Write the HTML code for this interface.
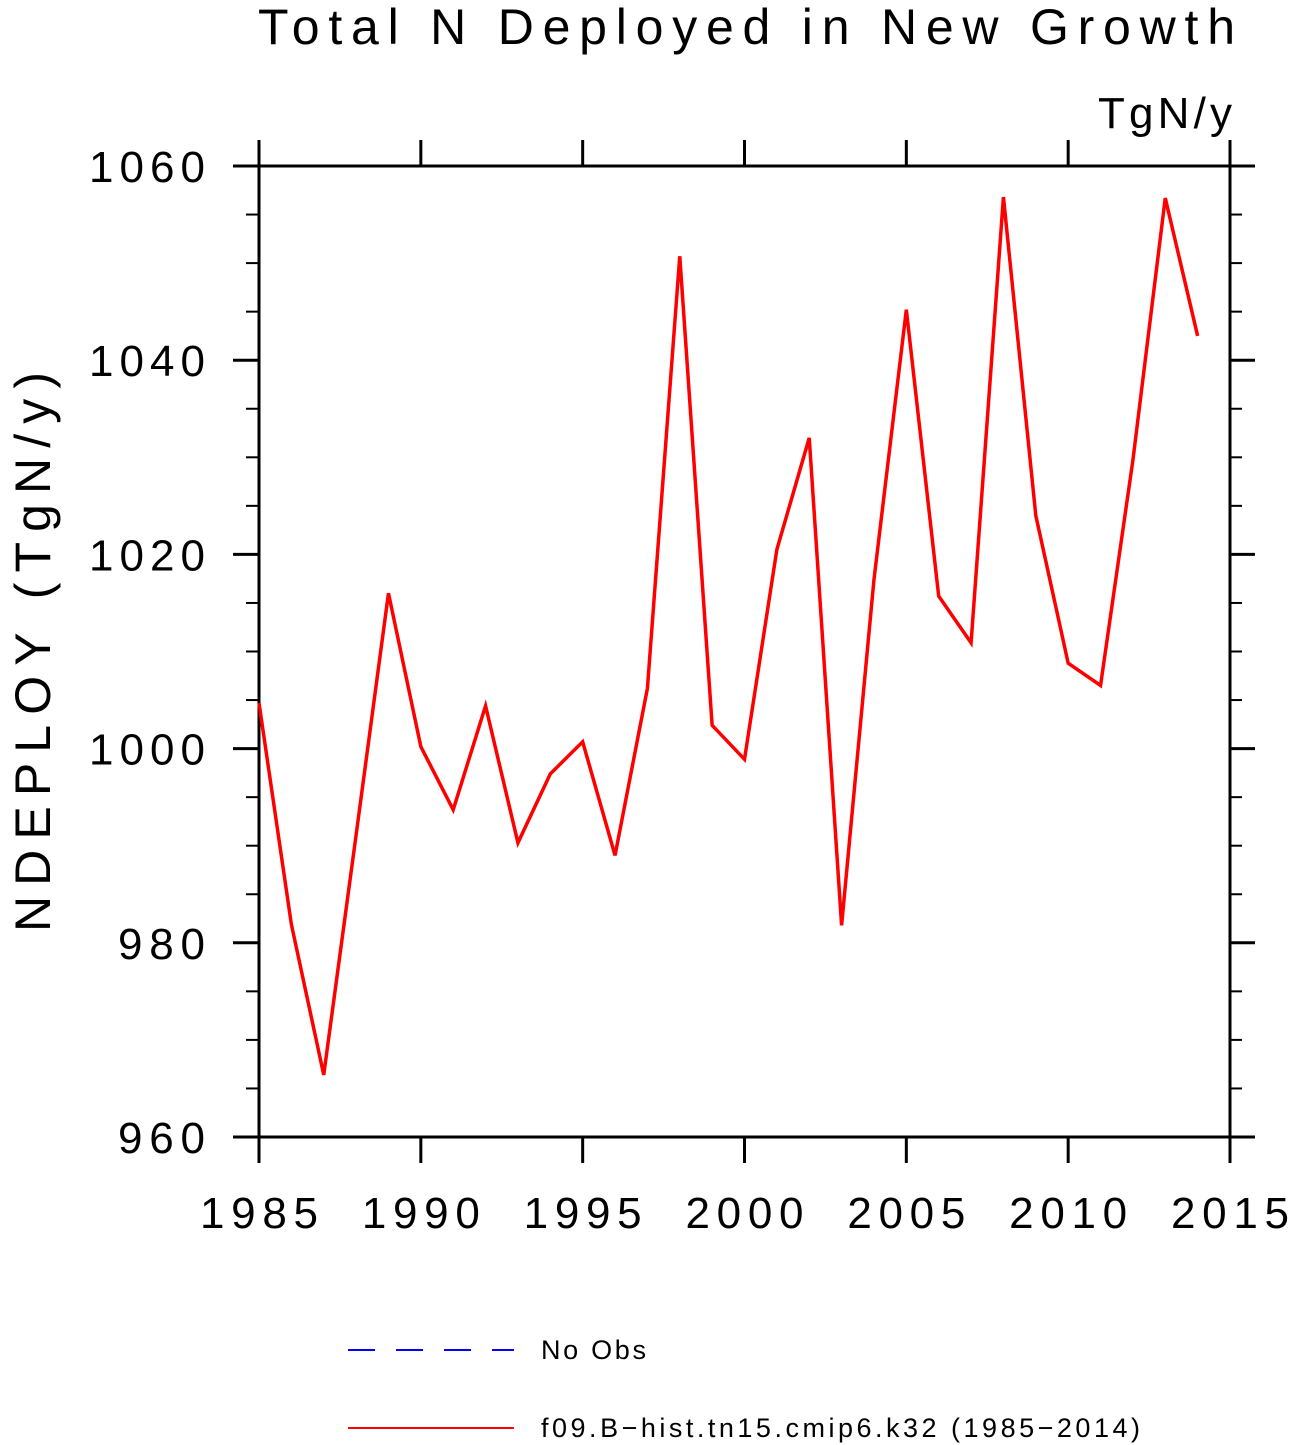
<!DOCTYPE html>
<html><head><meta charset="utf-8">
<style>
html,body{margin:0;padding:0;background:#fff;}
svg{display:block;font-family:"Liberation Sans","DejaVu Sans",sans-serif;}
</style></head>
<body>
<svg id="chart" width="1289" height="1445" viewBox="0 0 1289 1445" xmlns="http://www.w3.org/2000/svg">
<text x="258" y="44" textLength="977" lengthAdjust="spacing" font-size="50" fill="#000">Total N Deployed in New Growth</text>
<text x="1098" y="128" textLength="134" lengthAdjust="spacing" font-size="44" fill="#000">TgN/y</text>
<text transform="translate(50,932) rotate(-90)" textLength="560" lengthAdjust="spacing" font-size="50" fill="#000">NDEPLOY  (TgN/y)</text>
<g id="axes"></g>
<g id="series"></g>
<g>
<line x1="348" y1="1350" x2="514" y2="1350" stroke="#0000ff" stroke-width="2" stroke-dasharray="27,21"/>
<text x="541" y="1359" textLength="105" lengthAdjust="spacing" font-size="27" fill="#000">No Obs</text>
<line x1="348" y1="1428" x2="514" y2="1428" stroke="#ff0000" stroke-width="2"/>
<text x="541" y="1437" textLength="599" lengthAdjust="spacing" font-size="27" fill="#000">f09.B−hist.tn15.cmip6.k32 (1985−2014)</text>
</g>
</svg>
<script>
const years = [1985,1986,1987,1988,1989,1990,1991,1992,1993,1994,1995,1996,1997,1998,1999,2000,2001,2002,2003,2004,2005,2006,2007,2008,2009,2010,2011,2012,2013,2014];
const values = [1004.7,981.9,966.4,991.1,1016.0,1000.2,993.7,1004.4,990.3,997.4,1000.7,989.0,1006.2,1050.7,1002.4,998.9,1020.5,1032.0,981.8,1017.4,1045.2,1015.7,1010.9,1056.8,1024.0,1008.8,1006.5,1029.7,1056.7,1042.5];
const xTicks = [1985,1990,1995,2000,2005,2010,2015];
const yTicks = [960,980,1000,1020,1040,1060];
const xMin=1985,xMax=2015,yMin=960,yMax=1060;
const L=259,R=1230,T=166,B=1137;
const sx=v=>L+(v-xMin)/(xMax-xMin)*(R-L);
const sy=v=>B-(v-yMin)/(yMax-yMin)*(B-T);
const NS="http://www.w3.org/2000/svg";
const axes=document.getElementById('axes');
function ln(x1,y1,x2,y2,w){const l=document.createElementNS(NS,'line');l.setAttribute('x1',x1);l.setAttribute('y1',y1);l.setAttribute('x2',x2);l.setAttribute('y2',y2);l.setAttribute('stroke','#000');l.setAttribute('stroke-width',w);axes.appendChild(l);return l;}
const fr=document.createElementNS(NS,'rect');


fr.setAttribute('x',L);fr.setAttribute('y',T);fr.setAttribute('width',R-L);fr.setAttribute('height',B-T);
fr.setAttribute('fill','none');fr.setAttribute('stroke','#000');fr.setAttribute('stroke-width',3);
axes.appendChild(fr);
for(let v=yMin;v<=yMax;v+=5){
  const y=sy(v);const major=(v-yMin)%20===0;
  const a=ln(major?233:246,y,L,y,major?3:2);
  
  
  const b=ln(R,y,major?1255:1242,y,major?3:2);
  
  
}
yTicks.forEach(v=>{
  const t=document.createElementNS(NS,'text');
  
  
  const s=String(v);const w=s.length*29;
  t.setAttribute('x',205-w);t.setAttribute('y',sy(v)+16);
  t.setAttribute('textLength',w);t.setAttribute('lengthAdjust','spacing');
  t.setAttribute('font-size','44');t.textContent=s;axes.appendChild(t);
});
xTicks.forEach(v=>{
  const x=sx(v);
  const a=ln(x,140,x,T,3);
  
  
  const b=ln(x,B,x,1163,3);
  
  
  const t=document.createElementNS(NS,'text');
  
  
  t.setAttribute('x',x-59);t.setAttribute('y',1228);
  t.setAttribute('textLength',118);t.setAttribute('lengthAdjust','spacing');
  t.setAttribute('font-size','44');t.textContent=v;axes.appendChild(t);
});
const p=document.createElementNS(NS,'polyline');


p.setAttribute('points',years.map((y,i)=>sx(y)+','+sy(values[i])).join(' '));
p.setAttribute('fill','none');p.setAttribute('stroke','#ff0000');p.setAttribute('stroke-width','3.5');p.setAttribute('stroke-linejoin','miter');
document.getElementById('series').appendChild(p);
</script>
</body></html>
